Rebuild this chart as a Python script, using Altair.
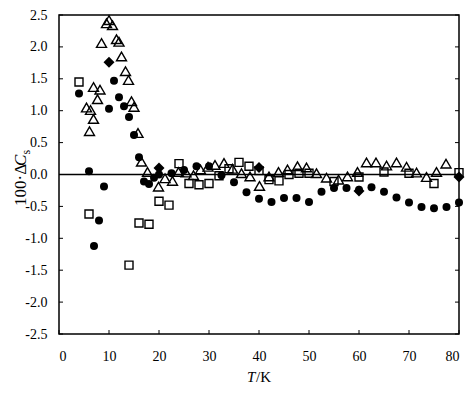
import altair as alt
import pandas as pd

# ---- data ----
tri_x = [5.5, 6.1, 6.3, 6.9, 6.9, 7.7, 8.2, 8.5, 9.5, 10.0, 10.7, 11.5, 12.0, 12.5, 13.3,
         13.9, 14.5, 15.0, 15.8, 16.5, 17.7, 19.9, 21.2, 22.7, 23.9, 25.4, 26.9, 28.3, 29.8,
         31.2, 33.0, 34.7, 36.5, 38.2, 40.1, 42.0, 43.9, 45.7, 47.7, 49.5, 51.5, 53.5, 55.9,
         57.7, 59.7, 61.5, 63.4, 65.5, 67.5, 69.5, 71.5, 73.5, 75.5, 77.4]
tri_y = [1.05, 0.68, 1.01, 0.87, 1.37, 1.18, 1.33, 2.06, 2.37, 2.42, 2.34, 2.12, 2.08, 1.85, 1.62,
         1.48, 1.15, 1.06, 0.65, 0.20, 0.04, -0.19, -0.06, -0.10, 0.04, 0.03, -0.01, 0.08, 0.12,
         0.15, 0.18, 0.09, 0.02, -0.03, -0.18, -0.03, 0.04, 0.08, 0.13, 0.11, 0.02, -0.05, -0.08,
         -0.03, 0.04, 0.19, 0.19, 0.14, 0.19, 0.12, 0.03, -0.04, 0.04, 0.17]

circ_x = [4, 6, 7, 8, 9, 10, 11, 12, 13, 14, 15, 16, 17, 18, 19, 20, 22.5, 25, 27.5, 30,
          32.5, 35, 37.5, 40, 42.5, 45, 47.5, 50, 52.5, 55, 57.5, 60, 62.5, 65, 67.5, 70,
          72.5, 75, 77.5, 80]
circ_y = [1.27, 0.05, -1.12, -0.72, -0.19, 1.03, 1.47, 1.21, 1.07, 0.90, 0.62, 0.27, -0.11,
          -0.15, -0.05, 0.00, 0.02, 0.07, 0.13, 0.13, -0.01, -0.12, -0.28, -0.38, -0.43, -0.37,
          -0.37, -0.43, -0.27, -0.21, -0.21, -0.24, -0.20, -0.27, -0.36, -0.44, -0.51, -0.53,
          -0.51, -0.44]

sq_x = [4, 6, 14, 16, 18, 20, 22, 24, 26, 28, 30, 32, 34, 36, 38, 40, 42, 44, 46, 48, 50,
        55, 60, 65, 70, 75, 80]
sq_y = [1.45, -0.62, -1.42, -0.76, -0.78, -0.42, -0.48, 0.17, -0.14, -0.16, -0.14, -0.02,
        0.09, 0.19, 0.13, 0.06, -0.08, -0.10, 0.00, 0.02, 0.02, -0.11, -0.04, 0.04, 0.02,
        -0.14, 0.03]

dia_x = [10, 20, 40, 60, 80]
dia_y = [1.76, 0.10, 0.11, -0.26, -0.04]

x_ticks = [0, 10, 20, 30, 40, 50, 60, 70, 80]
y_ticks = [-2.5, -2.0, -1.5, -1.0, -0.5, 0.0, 0.5, 1.0, 1.5, 2.0, 2.5]

W, H = 400, 319
FONT = "Liberation Serif"

xs = alt.Scale(domain=[0, 80], nice=False, zero=False)
ys = alt.Scale(domain=[-2.5, 2.5], nice=False, zero=False)

xaxis = alt.Axis(values=x_ticks, format="d", ticks=False, tickSize=0, domain=False, grid=False,
                 labelFont=FONT, labelFontSize=14, labelColor="black", labelPadding=15,
                 title=None)
yaxis = alt.Axis(values=y_ticks, ticks=False, tickSize=0, domain=False, grid=False,
                 labelExpr="replace(format(datum.value, '.1f'), '\u2212', '-')",
                 labelFont=FONT, labelFontSize=14, labelColor="black", labelPadding=12,
                 title=None)


def points(xv, yv, shape, filled, size):
    df = pd.DataFrame({"T": xv, "v": yv})
    return alt.Chart(df).mark_point(shape=shape, filled=filled, size=size, color="black",
                                    strokeWidth=1.4, opacity=1).encode(
        x=alt.X("T:Q", scale=xs, axis=xaxis),
        y=alt.Y("v:Q", scale=ys, axis=yaxis),
    )


tick_x_df = pd.DataFrame({"t": x_ticks})
tick_y_df = pd.DataFrame({"t": y_ticks})

bottom_ticks = alt.Chart(tick_x_df).mark_rule(color="black", strokeWidth=1).encode(
    x=alt.X("t:Q", scale=xs, axis=xaxis), y=alt.value(H), y2=alt.value(H - 4))
left_ticks = alt.Chart(tick_y_df).mark_rule(color="black", strokeWidth=1).encode(
    y=alt.Y("t:Q", scale=ys, axis=yaxis), x=alt.value(0), x2=alt.value(4))
right_ticks = alt.Chart(tick_y_df).mark_rule(color="black", strokeWidth=1).encode(
    y=alt.Y("t:Q", scale=ys, axis=yaxis), x=alt.value(W), x2=alt.value(W - 4))

zero_line = alt.Chart(pd.DataFrame({"z": [0.0]})).mark_rule(color="black", strokeWidth=1.3).encode(
    y=alt.Y("z:Q", scale=ys, axis=yaxis), x=alt.value(0), x2=alt.value(W))

one = pd.DataFrame({"a": [0]})
yt1 = alt.Chart(one).mark_text(text="100·Δ", angle=270, align="left", baseline="alphabetic",
                               font=FONT, fontSize=17, color="black").encode(
    x=alt.value(-33), y=alt.value(191))
yt2 = alt.Chart(one).mark_text(text="C", angle=270, align="left", baseline="alphabetic",
                               font=FONT, fontSize=17, fontStyle="italic", color="black").encode(
    x=alt.value(-33), y=alt.value(151))
yt3 = alt.Chart(one).mark_text(text="s", angle=270, align="left", baseline="alphabetic",
                               font=FONT, fontSize=12, color="black").encode(
    x=alt.value(-29), y=alt.value(139.5))
xt1 = alt.Chart(one).mark_text(text="T", align="left", baseline="alphabetic",
                               font=FONT, fontSize=15, fontStyle="italic", color="black").encode(
    x=alt.value(188), y=alt.value(367))
xt2 = alt.Chart(one).mark_text(text="/K", align="left", baseline="alphabetic",
                               font=FONT, fontSize=15, color="black").encode(
    x=alt.value(197), y=alt.value(367))

chart = alt.layer(
    zero_line,
    bottom_ticks, left_ticks, right_ticks,
    points(sq_x, sq_y, "square", False, 64),
    points(tri_x, tri_y, "triangle-up", False, 100),
    points(circ_x, circ_y, "circle", True, 64),
    points(dia_x, dia_y, "diamond", True, 121),
    yt1, yt2, yt3, xt1, xt2,
).properties(
    width=W, height=H, autosize="none",
    padding={"left": 51, "top": 7, "right": 8, "bottom": 60},
).configure_view(stroke="black", strokeWidth=1.5)

chart.save("out.html", embed_options={"renderer": "svg", "actions": False})
